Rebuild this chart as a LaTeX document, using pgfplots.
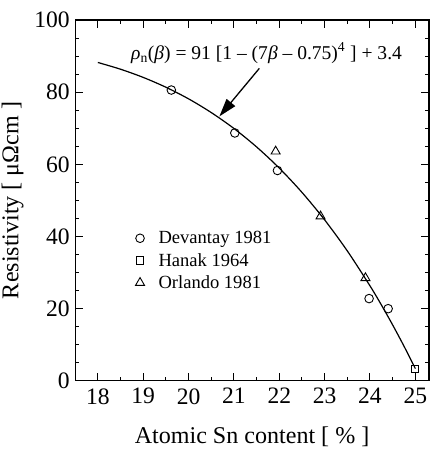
\documentclass[border=0pt]{standalone}
\usepackage{fontspec}
\setmainfont{Liberation Serif}
\usepackage{pgfplots}
\pgfplotsset{compat=1.18}
\usetikzlibrary{arrows.meta}
\begin{document}
\begin{tikzpicture}
\begin{axis}[
  scale only axis,
  width=353pt, height=360pt,
  xmin=17.5, xmax=25.3, ymin=0, ymax=100,
  xtick={18,19,...,25}, ytick={0,20,...,100},
  minor x tick num=1, minor y tick num=3,
  tick align=inside,
  major tick length=8pt, minor tick length=4pt,
  tick style={line width=1pt, black},
  axis line style={line width=1.3pt},
  /pgf/number format/assume math mode=true,
  ticklabel style={font=\fontsize{23.5}{27}\selectfont},
  xticklabel style={yshift=-4pt},
  yticklabel style={xshift=-2pt},
  label style={font=\fontsize{24}{28}\selectfont},
  xlabel={Atomic Sn content [ \% ]},
  ylabel={Resistivity [ μΩcm ]},
  xlabel style={at={(axis description cs:0.5,0)}, anchor=north, yshift=-42pt},
  ylabel style={at={(axis description cs:0,0.5)}, anchor=south, yshift=48pt},
  legend style={draw=none, fill=none, font=\fontsize{18.5}{22}\selectfont, at={(axis cs:18.76,42.6)}, anchor=north west, row sep=4pt, column sep=12pt},
  legend cell align=left,
  clip=false,
]
\addplot[black, line width=1.2pt, smooth, forget plot] coordinates {
(18,88.24) (18.5,86.37) (19,84.10) (19.5,81.38) (20,78.16) (20.5,74.36) (21,69.95) (21.5,64.83) (22,58.96) (22.5,52.24) (23,44.62) (23.5,36.01) (24,26.33) (24.25,21.06) (24.5,15.49) (24.75,9.60) (25,3.4)};
\addplot[only marks, mark=o, mark size=4.3pt, mark options={line width=0.9pt, fill=white}, black] coordinates {
(19.62,80.6) (21.02,68.7) (21.96,58.3) (23.98,22.8) (24.40,20.0)};
\addlegendentry{Devantay 1981}
\addplot[only marks, mark=square, mark size=3.9pt, mark options={line width=0.9pt, fill=white}, black] coordinates {
(24.99,3.3)};
\addlegendentry{Hanak 1964}
\addplot[only marks, mark=triangle, mark size=5.2pt, mark options={line width=0.9pt, fill=white}, black] coordinates {
(21.92,63.6) (22.91,45.6) (23.90,28.5)};
\addlegendentry{Orlando 1981}
\draw[-{Triangle[length=18pt,width=11pt]}, line width=1.3pt] (axis cs:21.56,86.6) -- (axis cs:20.68,73.3);
\node[font=\fontsize{19.5}{23}\selectfont] at (axis cs:21.72,90.8) {\textit{ρ}\textsubscript{n}(\textit{β}) = 91 [1 – (7\textit{β} – 0.75)\textsuperscript{4} ] + 3.4};
\end{axis}
\pgfresetboundingbox
\path ([shift={(-75pt,-69pt)}]current axis.south west) rectangle ([shift={(3pt,20pt)}]current axis.north east);
\end{tikzpicture}
\end{document}
